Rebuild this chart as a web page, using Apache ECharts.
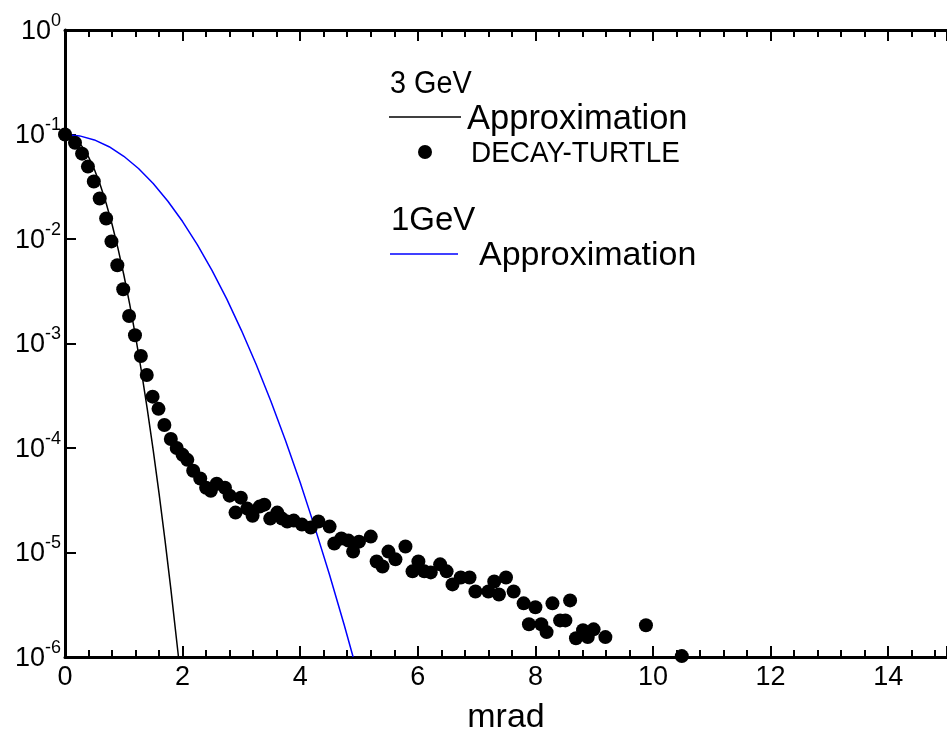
<!DOCTYPE html>
<html>
<head>
<meta charset="utf-8">
<title>Angular distribution</title>
<script src="https://cdn.jsdelivr.net/npm/echarts@6/dist/echarts.min.js"></script>
<style>
  html, body { margin: 0; padding: 0; background: #fff; }
  #chart { width: 947px; height: 740px; }
</style>
</head>
<body>
<div id="chart"></div>
<script>
// DECAY-TURTLE simulation, 3 GeV (mrad, relative intensity)
const turtleX = [0, 0.17, 0.29, 0.39, 0.49, 0.59, 0.70, 0.79, 0.89, 0.99, 1.09, 1.19, 1.29, 1.39, 1.49, 1.59, 1.69, 1.80, 1.90, 2.00,
  2.08, 2.18, 2.30, 2.40, 2.48, 2.58, 2.72, 2.80, 2.90, 2.99, 3.10, 3.19, 3.31, 3.39, 3.49, 3.61, 3.69, 3.78, 3.89, 4.03,
  4.18, 4.31, 4.50, 4.58, 4.70, 4.82, 4.90, 5.00, 5.20, 5.30, 5.40, 5.50, 5.62, 5.79, 5.91, 6.01, 6.11, 6.22, 6.38, 6.49,
  6.59, 6.73, 6.88, 6.98, 7.20, 7.30, 7.38, 7.50, 7.63, 7.80, 7.89, 8.00, 8.10, 8.19, 8.29, 8.42, 8.51, 8.59, 8.69, 8.81,
  8.89, 8.99, 9.19, 9.88, 10.49];
const turtleY = [0.1, 0.0835, 0.0656, 0.0493, 0.0355, 0.0244, 0.0157, 0.00948, 0.0056, 0.0033, 0.00183, 0.0012, 7.6e-4, 5.0e-4, 3.1e-4, 2.37e-4, 1.66e-4, 1.22e-4, 1.0e-4, 8.6e-5,
  7.7e-5, 6.05e-5, 5.1e-5, 4.17e-5, 3.9e-5, 4.55e-5, 4.17e-5, 3.5e-5, 2.41e-5, 3.35e-5, 2.63e-5, 2.25e-5, 2.75e-5, 2.87e-5, 2.11e-5, 2.41e-5, 2.11e-5, 1.98e-5, 2.02e-5, 1.85e-5,
  1.73e-5, 1.98e-5, 1.77e-5, 1.22e-5, 1.36e-5, 1.3e-5, 1.02e-5, 1.27e-5, 1.42e-5, 8.2e-6, 7.35e-6, 1.02e-5, 8.6e-6, 1.14e-5, 6.6e-6, 8.2e-6, 6.6e-6, 6.45e-6, 7.7e-6, 6.6e-6,
  4.95e-6, 5.77e-6, 5.77e-6, 4.24e-6, 4.24e-6, 5.28e-6, 3.97e-6, 5.77e-6, 4.24e-6, 3.26e-6, 2.06e-6, 2.99e-6, 2.06e-6, 1.73e-6, 3.26e-6, 2.24e-6, 2.24e-6, 3.48e-6, 1.51e-6, 1.8e-6,
  1.55e-6, 1.84e-6, 1.55e-6, 2.01e-6, 1.02e-6];

// Approximation, 3 GeV
const approx3X = [0, 0.1, 0.2, 0.3, 0.4, 0.5, 0.6, 0.7, 0.8, 0.9, 1.0, 1.1, 1.2, 1.3, 1.4, 1.5, 1.6, 1.7, 1.8, 1.93];
const approx3Y = [0.1, 0.097, 0.0884, 0.0757, 0.061, 0.0462, 0.0329, 0.022, 0.01384, 0.00818, 0.00455, 0.00238, 0.00117, 5.4e-4, 2.34e-4, 9.55e-5, 3.66e-5, 1.32e-5, 4.49e-6, 1.0e-6];

// Approximation, 1 GeV
const approx1X = [0, 0.25, 0.5, 0.75, 1.0, 1.25, 1.5, 1.75, 2.0, 2.25, 2.5, 2.75, 3.0, 3.25, 3.5, 3.75, 4.0, 4.25, 4.5, 4.75, 4.9];
const approx1Y = [0.1, 0.097, 0.0887, 0.0764, 0.0619, 0.0473, 0.034, 0.023, 0.01469, 0.00883, 0.005, 0.00267, 0.001337, 6.32e-4, 2.82e-4, 1.18e-4, 4.67e-5, 1.73e-5, 6.08e-6, 2.01e-6, 1.0e-6];

const FONT = '"Liberation Sans", Arial, Helvetica, sans-serif';

const pairs = (xs, ys) => xs.map((x, i) => [x, ys[i]]);

const chart = echarts.init(document.getElementById('chart'), null, { renderer: 'canvas' });

const baseXAxis = {
  type: 'value',
  min: 0,
  max: 15,
  interval: 2,
  axisLine: { show: true, lineStyle: { color: '#000', width: 3 } },
  axisTick: { show: true, inside: true, length: 11, lineStyle: { color: '#000', width: 2 } },
  minorTick: { show: true, splitNumber: 5, length: 7, lineStyle: { color: '#000', width: 2 } },
  splitLine: { show: false },
  minorSplitLine: { show: false }
};

// legend text helper: left edge at x, vertically centred on y
const legendText = (text, x, y, size, sx) => ({
  type: 'text', x: x, y: y, scaleX: sx || 1,
  style: { text: text, font: size + 'px ' + FONT, fill: '#000', verticalAlign: 'middle', align: 'left' }
});

chart.setOption({
  animation: false,
  backgroundColor: '#fff',
  grid: { left: 65, top: 30, width: 894, height: 631, containLabel: false },
  xAxis: [
    Object.assign({}, baseXAxis, {
      position: 'bottom',
      name: 'mrad',
      nameLocation: 'middle',
      nameGap: 44,
      nameMoveOverlap: false,
      nameTextStyle: { fontSize: 34, fontFamily: FONT, color: '#000' },
      axisLabel: { show: true, margin: 7, fontSize: 27, fontFamily: FONT, color: '#000', showMaxLabel: false }
    }),
    Object.assign({}, baseXAxis, {
      position: 'top',
      axisLabel: { show: false }
    })
  ],
  yAxis: {
    type: 'log',
    logBase: 10,
    min: 1e-6,
    max: 1,
    interval: 1,
    axisLine: { show: true, lineStyle: { color: '#000', width: 3 } },
    axisTick: { show: true, inside: true, length: 11, lineStyle: { color: '#000', width: 2 } },
    splitLine: { show: false },
    axisLabel: {
      margin: 4,
      formatter: function (v) {
        const e = Math.round(Math.log10(v));
        return '{b|10}{s|' + e + '}';
      },
      rich: {
        b: { fontSize: 27, fontFamily: FONT, color: '#000', lineHeight: 30, verticalAlign: 'bottom' },
        s: { fontSize: 18, fontFamily: FONT, color: '#000', lineHeight: 18, verticalAlign: 'bottom', padding: [0, 0, 15, 0] }
      }
    }
  },
  series: [
    {
      name: '1GeV Approximation',
      type: 'line',
      data: pairs(approx1X, approx1Y),
      showSymbol: false,
      symbol: 'none',
      lineStyle: { color: '#0000ff', width: 1.5 },
      z: 3
    },
    {
      name: '3 GeV Approximation',
      type: 'line',
      data: pairs(approx3X, approx3Y),
      showSymbol: false,
      symbol: 'none',
      lineStyle: { color: '#000', width: 1.5 },
      z: 3
    },
    {
      name: 'DECAY-TURTLE',
      type: 'scatter',
      data: pairs(turtleX, turtleY),
      symbol: 'circle',
      symbolSize: 14,
      itemStyle: { color: '#000', opacity: 1 },
      clip: false,
      z: 10
    }
  ],
  graphic: [
    legendText('3 GeV', 390, 84, 31, 0.93),
    { type: 'line', shape: { x1: 389, y1: 117, x2: 461, y2: 117 }, style: { stroke: '#000', lineWidth: 1.5 } },
    legendText('Approximation', 467, 119, 34.5),
    { type: 'circle', shape: { cx: 425, cy: 152, r: 7 }, style: { fill: '#000' } },
    legendText('DECAY-TURTLE', 471, 154, 30, 0.93),
    legendText('1GeV', 391, 221, 33),
    { type: 'line', shape: { x1: 390, y1: 254, x2: 458, y2: 254 }, style: { stroke: '#0000ff', lineWidth: 1.5 } },
    legendText('Approximation', 479, 256, 34)
  ]
});
</script>
</body>
</html>
